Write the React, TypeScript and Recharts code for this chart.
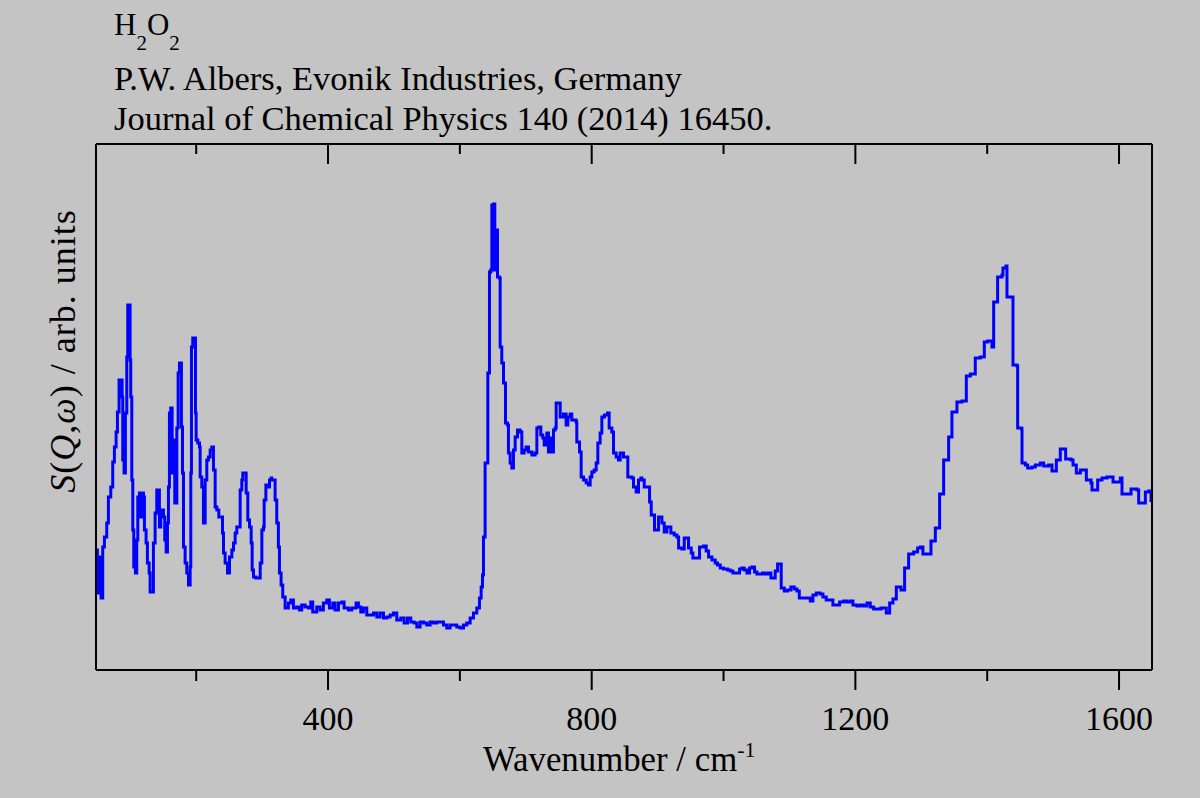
import React from 'react';
import { LineChart, Line, XAxis, YAxis } from 'recharts';

const wavenumber = [
  49.1, 50.1, 53.2, 55.7, 58.2, 60.8, 64.3, 66.8, 70.4, 73.4, 75.9, 78.5, 80.5, 83.0, 85.6, 87.6, 88.6, 90.6, 92.6, 94.7,
  96.2, 98.7, 99.7, 100.7, 102.3, 103.8, 105.3, 107.8, 109.8, 111.4, 113.9, 115.9, 117.4, 120.0, 121.5, 124.0, 126.0, 128.6, 130.1, 133.1,
  135.1, 137.7, 140.2, 142.7, 144.2, 146.3, 148.3, 150.3, 152.3, 154.4, 156.4, 157.9, 159.4, 161.4, 163.5, 165.5, 167.5, 169.5, 170.6, 172.6,
  174.6, 176.6, 177.6, 179.2, 180.7, 183.2, 185.7, 188.3, 190.8, 191.8, 192.8, 194.8, 197.4, 198.9, 199.9, 202.4, 205.0, 206.0, 208.5, 211.0,
  213.6, 216.1, 218.6, 221.2, 223.7, 226.2, 228.8, 231.3, 234.3, 237.4, 239.9, 241.4, 243.9, 247.5, 250.5, 254.1, 256.6, 259.1, 261.6, 264.2,
  266.7, 269.2, 270.7, 273.3, 275.8, 278.3, 280.9, 283.4, 284.9, 286.9, 290.5, 294.5, 297.1, 299.6, 302.1, 303.1, 305.7, 308.7, 311.2, 313.7,
  314.6, 319.7, 322.2, 324.7, 326.3, 328.8, 331.3, 334.9, 339.9, 343.5, 347.5, 352.6, 356.6, 360.1, 365.2, 370.3, 373.8, 376.8, 382.9, 388.0,
  393.0, 398.1, 402.1, 407.2, 410.7, 415.8, 420.9, 424.4, 431.0, 436.0, 442.6, 446.1, 449.7, 453.7, 458.8, 463.8, 468.9, 474.0, 479.0, 484.1,
  489.1, 494.2, 499.2, 504.3, 510.4, 515.4, 520.5, 525.5, 530.6, 534.7, 539.7, 544.8, 549.8, 554.9, 559.9, 565.0, 570.0, 575.1, 580.2, 585.2,
  590.3, 595.3, 600.4, 605.5, 610.5, 615.6, 620.6, 625.7, 629.7, 632.3, 634.3, 635.8, 638.3, 640.9, 642.4, 644.9, 646.9, 648.5, 651.0, 653.0,
  655.0, 657.1, 660.1, 661.1, 663.6, 666.2, 669.2, 672.2, 673.7, 676.3, 678.8, 681.3, 683.9, 687.4, 691.4, 694.0, 697.5, 700.5, 704.1, 709.2,
  714.2, 716.8, 719.8, 722.8, 725.8, 727.9, 731.9, 734.4, 736.9, 739.5, 742.0, 744.6, 746.1, 749.6, 752.2, 757.2, 761.2, 763.8, 767.3, 769.8,
  773.4, 776.4, 777.4, 781.5, 784.0, 787.6, 791.6, 795.1, 797.7, 800.2, 803.7, 806.8, 809.3, 812.8, 815.4, 819.4, 824.0, 826.5, 830.5, 833.1,
  837.1, 840.6, 843.2, 848.2, 853.3, 854.8, 860.9, 863.4, 867.5, 871.0, 874.6,
  876.1, 879.7, 884.7, 887.8, 890.3, 895.3, 901.4, 906.5, 910.0, 914.1, 920.1, 925.2, 929.2, 931.8, 936.8, 940.4, 944.4, 946.9, 951.0, 953.5,
  959.6, 963.6, 969.7, 973.7, 977.3, 982.4, 987.4, 990.9, 995.0, 1000.0, 1006.1, 1010.2, 1014.2, 1020.3, 1024.3, 1027.9, 1031.4, 1035.5, 1039.5, 1043.0,
  1047.1, 1050.6, 1055.7, 1059.2, 1063.3, 1068.3, 1071.9, 1075.9, 1078.4, 1082.0, 1086.0, 1087.5, 1092.1, 1097.1, 1102.2, 1107.3, 1111.3, 1114.9, 1121.4, 1128.0,
  1131.6, 1135.6, 1140.7, 1146.7, 1150.8, 1155.8, 1161.9, 1165.9, 1171.0, 1176.1, 1182.1, 1187.2, 1192.3, 1196.3, 1202.4, 1207.4, 1212.5, 1217.5, 1222.6, 1227.7,
  1233.7, 1238.8,
  1240.3, 1246.9, 1252.0, 1257.0, 1262.1, 1269.2, 1274.7, 1280.8, 1288.4, 1294.4, 1298.5, 1302.5, 1311.1, 1314.7, 1321.3, 1327.8, 1333.9, 1341.5, 1346.5, 1354.1,
  1361.7, 1368.3, 1374.4, 1381.9, 1389.5, 1395.6, 1400.7, 1407.2, 1409.8, 1415.8, 1422.4, 1423.9, 1428.5, 1430.0, 1437.6, 1439.1, 1445.2, 1446.2, 1452.3, 1452.8,
  1457.8, 1461.4, 1468.0, 1473.0, 1480.6, 1485.6, 1493.2, 1498.3, 1503.3, 1504.9, 1510.9, 1517.0, 1519.0, 1527.1, 1530.2, 1535.2, 1541.3, 1548.9, 1550.4, 1557.5,
  1559.0, 1565.6, 1567.6, 1574.2, 1581.7, 1589.3, 1590.9, 1596.9, 1602.0, 1604.5, 1612.1, 1618.2, 1627.3, 1629.8, 1637.4, 1639.9, 1645.0, 1648.5,
];

const intensity = [
  120, 77, 113, 72, 123, 133, 147, 173, 183, 208, 223, 238, 258, 290, 290, 273, 210, 197, 257, 313,
  365, 365, 310, 273, 190, 140, 103, 97, 130, 173, 177, 153, 177, 173, 140, 127, 107, 97, 78, 78,
  127, 157, 180, 180, 143, 157, 160, 153, 130, 118, 147, 183, 257, 262, 197, 230, 167, 167, 242, 297,
  307, 307, 243, 197, 123, 107, 97, 85, 103, 197, 323, 332, 332, 257, 230, 227, 223, 193, 183, 147,
  190, 210, 213, 220, 223, 200, 163, 160, 153, 153, 137, 117, 107, 97, 113, 120, 127, 137, 143, 143,
  180, 190, 197, 197, 177, 150, 143, 127, 100, 93, 92, 92, 107, 140, 143, 170, 185, 183, 190, 192,
  190, 170, 147, 123, 97, 85, 73, 62, 67, 70, 62, 63, 60, 65, 63, 62, 68, 58, 63, 60,
  67, 70, 62, 67, 60, 67, 68, 62, 60, 62, 67, 63, 58, 62, 55, 55, 57, 53, 57, 52,
  53, 55, 57, 50, 52, 47, 52, 48, 47, 43, 48, 47, 45, 48, 47, 48, 48, 45, 42, 45,
  45, 43, 42, 45, 47, 52, 57, 62, 72, 83, 95, 133, 207, 207, 297, 398, 400, 465, 466, 400,
  440, 393, 392, 323, 307, 287, 247, 245, 217, 207, 202, 220, 233, 240, 238, 217, 220, 223, 218, 215,
  217, 242, 243, 235, 232, 225, 237, 218, 232, 218, 240, 242, 267, 267, 253, 256, 245, 253, 256, 250,
  250, 248, 228, 218, 193, 190, 187, 185, 193, 198, 200, 207, 227, 237, 253, 255, 257, 242, 238, 217,
  213, 210, 217, 213, 213, 193, 192, 183, 178, 190, 192,
  190, 183, 183, 168, 155, 140, 153, 147, 138, 143, 137, 135, 133, 122, 121, 132, 132, 122, 117, 112,
  112, 123, 124, 119, 113, 110, 107, 105, 102, 101, 100, 99, 97, 97, 101, 102, 100, 97, 102, 103,
  98, 96, 96, 97, 96, 97, 92, 92, 99, 106, 106, 82, 79, 80, 83, 81, 79, 72, 72, 72,
  69, 75, 77, 76, 73, 70, 70, 65, 65, 68, 69, 68, 69, 65, 64, 65, 64, 67, 63, 61,
  61, 62,
  62, 57, 67, 71, 83, 80, 102, 116, 118, 122, 123, 116, 116, 129, 142, 176, 210, 233, 258, 268,
  269, 294, 296, 312, 313, 328, 329, 323, 368, 393, 395, 402, 404, 373, 373, 305, 304, 242, 241, 207,
  205, 202, 203, 205, 207, 204, 205, 199, 199, 210, 221, 221, 211, 210, 205, 197, 200, 200, 190, 187,
  180, 180, 190, 192, 193, 193, 188, 188, 192, 176, 176, 181, 180, 167, 167, 178, 179, 168,
];

const majorTicks = [400, 800, 1200, 1600];
const allTicks = [200, 400, 600, 800, 1000, 1200, 1400, 1600];
const xDomain = [48, 1650];
const yDomain = [0, 526];

const titleFormula = ['H', '2', 'O', '2'];
const titleAuthor = 'P.W. Albers, Evonik Industries, Germany';
const titleJournal = 'Journal of Chemical Physics 140 (2014) 16450.';

const data = wavenumber.map((w, i) => ({ w, s: intensity[i] }));

const FONT = "'Liberation Serif', 'Times New Roman', serif";
const BG = '#c4c4c4';

const BottomTick = (props: any) => {
  const { x, y, payload } = props;
  const major = majorTicks.includes(payload.value);
  return (
    <g>
      <line x1={x} x2={x} y1={y} y2={y + (major ? 20 : 11)} stroke="#000" strokeWidth={2} />
      {major && (
        <text x={x} y={y + 60} textAnchor="middle" fontFamily={FONT} fontSize={34} fill="#000">
          {payload.value}
        </text>
      )}
    </g>
  );
};

const TopTick = (props: any) => {
  const { x, y, payload } = props;
  const major = majorTicks.includes(payload.value);
  return <line x1={x} x2={x} y1={y} y2={y + (major ? 20 : 10)} stroke="#000" strokeWidth={2} />;
};

export default function App() {
  return (
    <div style={{ position: 'absolute', left: 0, top: 0, width: 1200, height: 798, background: BG, overflow: 'hidden' }}>
      <LineChart
        width={1200}
        height={798}
        data={data}
        margin={{ top: 124, right: 28, bottom: 68, left: 76 }}
      >
        <XAxis
          xAxisId="bottom"
          dataKey="w"
          type="number"
          domain={xDomain}
          allowDataOverflow
          ticks={allTicks}
          interval={0}
          height={60}
          tickSize={0}
          tickMargin={0}
          tickLine={false}
          tick={<BottomTick />}
          axisLine={{ stroke: '#000', strokeWidth: 2 }}
        />
        <XAxis
          xAxisId="top"
          orientation="top"
          dataKey="w"
          type="number"
          domain={xDomain}
          allowDataOverflow
          ticks={allTicks}
          interval={0}
          height={20}
          tickSize={0}
          tickMargin={0}
          tickLine={false}
          tick={<TopTick />}
          axisLine={{ stroke: '#000', strokeWidth: 2 }}
        />
        <YAxis
          yAxisId="left"
          type="number"
          domain={yDomain}
          allowDataOverflow
          width={20}
          tick={false}
          tickLine={false}
          axisLine={{ stroke: '#000', strokeWidth: 2 }}
        />
        <YAxis
          yAxisId="right"
          orientation="right"
          type="number"
          domain={yDomain}
          allowDataOverflow
          width={20}
          tick={false}
          tickLine={false}
          axisLine={{ stroke: '#000', strokeWidth: 2 }}
        />
        <Line
          xAxisId="bottom"
          yAxisId="left"
          type="stepAfter"
          dataKey="s"
          stroke="#0000ff"
          strokeWidth={3}
          dot={false}
          isAnimationActive={false}
        />
      </LineChart>
      <svg
        width={1200}
        height={798}
        style={{ position: 'absolute', left: 0, top: 0, pointerEvents: 'none' }}
        fontFamily={FONT}
        fill="#000"
      >
        <text x={114} y={35} fontSize={31}>
          {titleFormula[0]}
          <tspan dy={15} fontSize={21}>{titleFormula[1]}</tspan>
          <tspan dy={-15} fontSize={31}>{titleFormula[2]}</tspan>
          <tspan dy={15} fontSize={21}>{titleFormula[3]}</tspan>
        </text>
        <text x={114} y={90} fontSize={34.5}>{titleAuthor}</text>
        <text x={114} y={130} fontSize={34.5}>{titleJournal}</text>
        <text x={483} y={771} fontSize={34.8}>
          Wavenumber / cm
          <tspan dy={-14} fontSize={22}>-1</tspan>
        </text>
        <text x={75} y={351} fontSize={36} textAnchor="middle" letterSpacing={1} transform="rotate(-90 75 351)">
          <tspan fontStyle="italic">S</tspan>(<tspan fontStyle="italic">Q</tspan>,<tspan fontStyle="italic">ω</tspan>) / arb. units
        </text>
      </svg>
    </div>
  );
}
